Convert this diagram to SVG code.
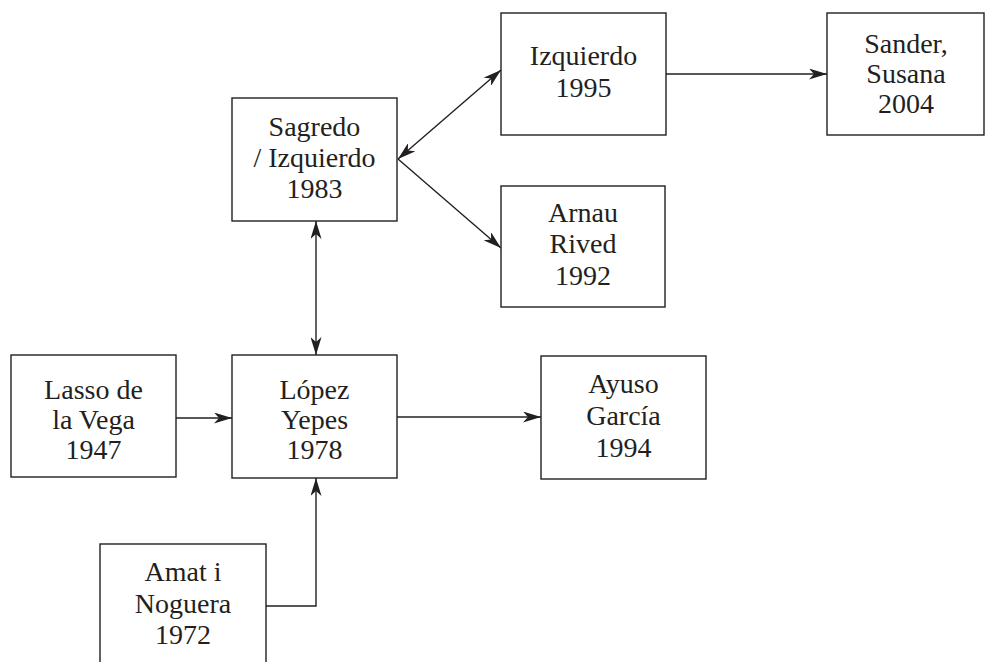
<svg xmlns="http://www.w3.org/2000/svg" width="985" height="662" viewBox="0 0 985 662">
<style>
.box{fill:#fff;stroke:#231f20;stroke-width:1.4}
.t{font-family:"Liberation Serif","Times New Roman",serif;font-size:28px;fill:#231f20;text-anchor:middle}
.c{fill:none;stroke:#231f20;stroke-width:1.4}
</style>
<defs>
<marker id="ah" viewBox="0 0 18 11" refX="18" refY="5.5" markerWidth="18" markerHeight="11" markerUnits="userSpaceOnUse" orient="auto-start-reverse">
<path d="M0,0 L18,5.5 L0,11 L5,5.5 z" fill="#231f20"/>
</marker>
</defs>
<rect width="985" height="662" fill="#fff"/>
<g id="connectors">
<line class="c" x1="666" y1="74" x2="827" y2="74" marker-end="url(#ah)"/>
<line class="c" x1="398" y1="159" x2="501" y2="70" marker-start="url(#ah)" marker-end="url(#ah)"/>
<line class="c" x1="398" y1="159" x2="501" y2="248" marker-end="url(#ah)"/>
<line class="c" x1="316" y1="221" x2="316" y2="355" marker-start="url(#ah)" marker-end="url(#ah)"/>
<line class="c" x1="176" y1="418" x2="232" y2="418" marker-end="url(#ah)"/>
<line class="c" x1="397" y1="417" x2="541" y2="417" marker-end="url(#ah)"/>
<polyline class="c" points="266,606 316,606 316,478" marker-end="url(#ah)"/>
</g>
<g id="sagredo">
<rect class="box" x="232" y="98" width="165" height="123"/>
<text class="t" x="314.5" y="136">Sagredo</text>
<text class="t" x="314.5" y="167">/ Izquierdo</text>
<text class="t" x="314.5" y="198">1983</text>
</g>
<g id="izquierdo">
<rect class="box" x="501" y="13" width="165" height="122"/>
<text class="t" x="583.5" y="65">Izquierdo</text>
<text class="t" x="583.5" y="97">1995</text>
</g>
<g id="sander">
<rect class="box" x="827" y="13" width="157" height="122"/>
<text class="t" x="906" y="53">Sander,</text>
<text class="t" x="906" y="83">Susana</text>
<text class="t" x="906" y="113">2004</text>
</g>
<g id="arnau">
<rect class="box" x="501" y="186" width="164" height="121"/>
<text class="t" x="583" y="222">Arnau</text>
<text class="t" x="583" y="253">Rived</text>
<text class="t" x="583" y="285">1992</text>
</g>
<g id="lasso">
<rect class="box" x="11" y="355" width="165" height="122"/>
<text class="t" x="93.5" y="399">Lasso de</text>
<text class="t" x="93.5" y="429">la Vega</text>
<text class="t" x="93.5" y="459">1947</text>
</g>
<g id="lopez">
<rect class="box" x="232" y="355" width="165" height="123"/>
<text class="t" x="314.5" y="399">López</text>
<text class="t" x="314.5" y="429">Yepes</text>
<text class="t" x="314.5" y="459">1978</text>
</g>
<g id="ayuso">
<rect class="box" x="541" y="356" width="165" height="123"/>
<text class="t" x="623.5" y="393">Ayuso</text>
<text class="t" x="623.5" y="425">García</text>
<text class="t" x="623.5" y="457">1994</text>
</g>
<g id="amat">
<rect class="box" x="100" y="544" width="166" height="140"/>
<text class="t" x="183" y="581">Amat i</text>
<text class="t" x="183" y="613">Noguera</text>
<text class="t" x="183" y="644">1972</text>
</g>
</svg>
